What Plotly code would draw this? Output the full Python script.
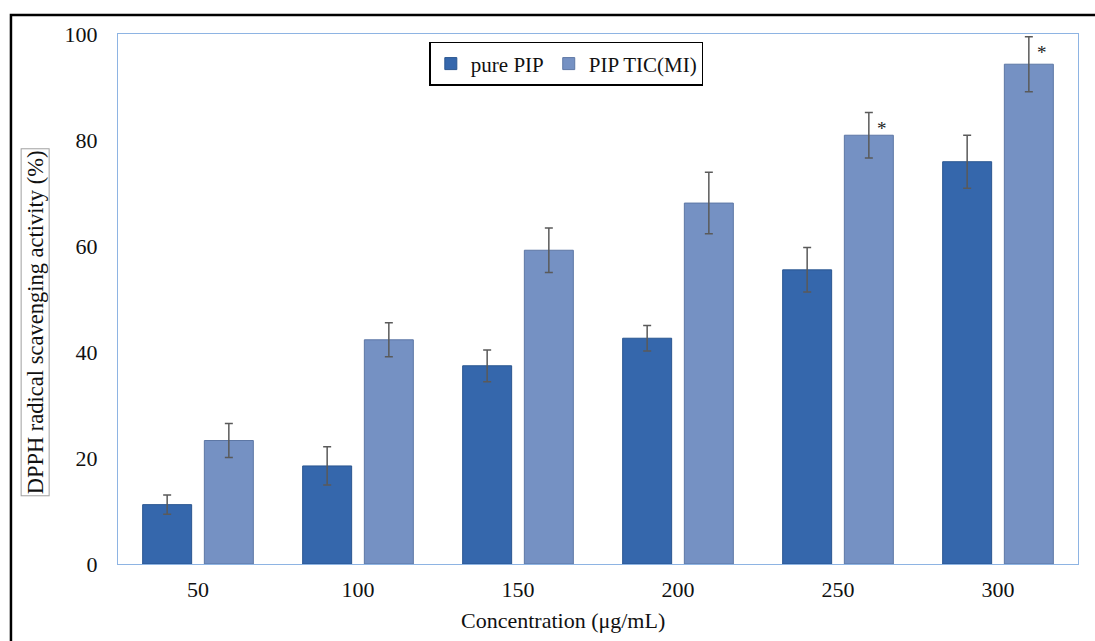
import plotly.graph_objects as go

categories = ["50", "100", "150", "200", "250", "300"]
pure_pip = [11.2, 18.5, 37.4, 42.6, 55.5, 75.9]
pure_pip_err = [1.8, 3.6, 3.0, 2.4, 4.2, 5.0]
pip_tic = [23.3, 42.3, 59.2, 68.1, 80.9, 94.3]
pip_tic_err = [3.2, 3.2, 4.2, 5.8, 4.3, 5.2]
significance = ["", "", "", "", "*", "*"]
y_ticks = [0, 20, 40, 60, 80, 100]

FONT = "Liberation Serif, Times New Roman, serif"
FS = 22

fig = go.Figure()
fig.add_trace(go.Bar(
    name="pure PIP", x=categories, y=pure_pip,
    marker=dict(color="#3567AC", line=dict(color="#2A5690", width=1)),
    error_y=dict(type="data", array=pure_pip_err, color="#5A5A5A", thickness=1.5, width=4),
))
fig.add_trace(go.Bar(
    name="PIP TIC(MI)", x=categories, y=pip_tic,
    marker=dict(color="#7591C3", line=dict(color="#5D77A5", width=1)),
    error_y=dict(type="data", array=pip_tic_err, color="#5A5A5A", thickness=1.5, width=4),
))

annotations = []
for i, (v, e, s) in enumerate(zip(pip_tic, pip_tic_err, significance)):
    if s:
        annotations.append(dict(x=i, y=v + e - 3.0, xref="x", yref="y", text=s,
                                showarrow=False, xshift=44,
                                font=dict(family=FONT, size=19, color="#222")))

# y-axis title in a box
annotations.append(dict(x=-0.0865, y=0.456, xref="paper", yref="paper",
                        xanchor="center", yanchor="middle",
                        text="DPPH radical scavenging activity (%)", textangle=-90,
                        showarrow=False, bordercolor="#A0A0A0", borderwidth=1, borderpad=1,
                        font=dict(family=FONT, size=22.5, color="#111")))
# x-axis title
annotations.append(dict(x=0.4635, y=-0.1075, xref="paper", yref="paper",
                        xanchor="center", yanchor="middle",
                        text="Concentration (μg/mL)", showarrow=False,
                        font=dict(family=FONT, size=FS, color="#111")))

fig.update_layout(
    width=1095, height=641,
    margin=dict(l=118, r=17, t=34, b=77),
    paper_bgcolor="white", plot_bgcolor="white",
    barmode="group", bargap=0.229, bargroupgap=0.206,
    font=dict(family=FONT, size=FS, color="#111"),
    legend=dict(orientation="h", x=0.467, xanchor="center", y=0.985, yanchor="top",
                bordercolor="black", borderwidth=1.5, bgcolor="white",
                font=dict(family=FONT, size=21, color="#111"),
                itemwidth=30, traceorder="normal"),
    annotations=annotations,
    shapes=[dict(type="rect", xref="paper", yref="paper",
                 x0=-0.1115, y0=-0.3, x1=1.2, y1=1.0358,
                 line=dict(color="black", width=2.5), fillcolor="rgba(0,0,0,0)")],
)
fig.update_yaxes(range=[0, 100], tickvals=y_ticks, showgrid=False, zeroline=False,
                 showline=True, mirror=True, linecolor="#8EB4E3", linewidth=1,
                 ticks="", ticklabelstandoff=15, tickfont=dict(family=FONT, size=FS))
fig.update_xaxes(type="category", range=[-0.5, 5.5], showgrid=False, showline=True,
                 mirror=True, linecolor="#8EB4E3", linewidth=1, ticks="",
                 ticklabelstandoff=6, tickfont=dict(family=FONT, size=FS))

fig.write_html("out.html", config={"displayModeBar": False},
               post_script="document.body.style.margin='0';")
